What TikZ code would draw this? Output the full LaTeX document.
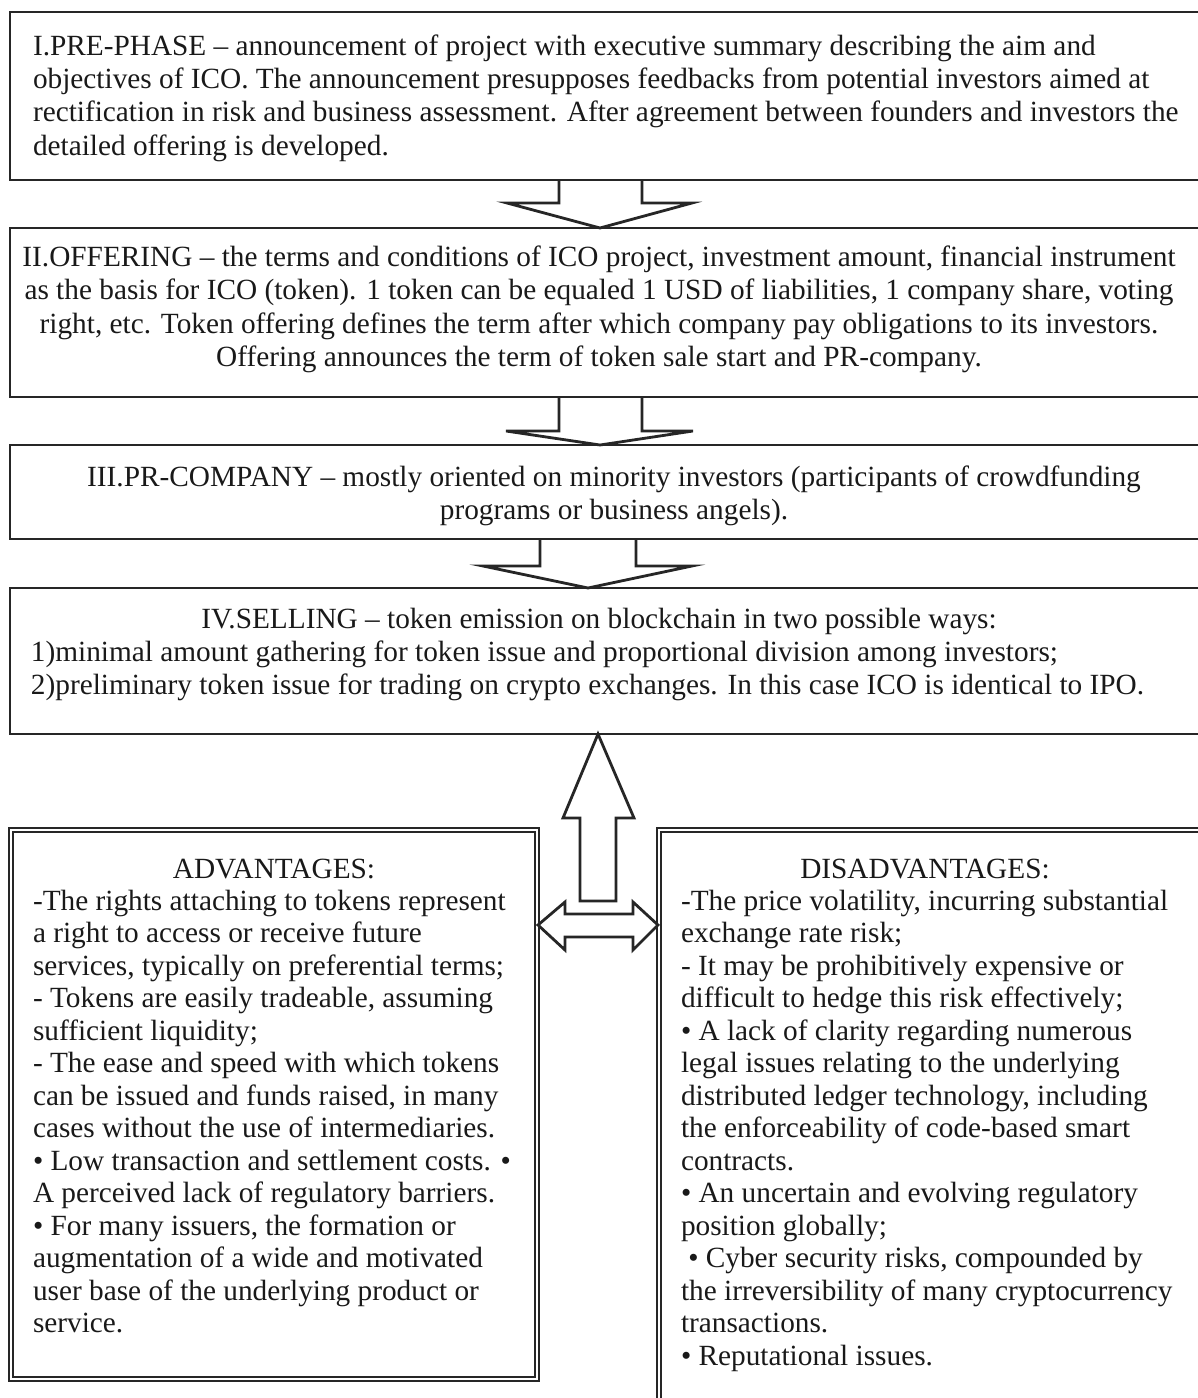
\documentclass[tikz,border=0pt]{standalone}
\usepackage{fontspec}
\setmainfont{Liberation Serif}
\usetikzlibrary{calc}
\begin{document}
\begin{tikzpicture}[x=0.5pt,y=-0.5pt,
  every node/.style={inner sep=0pt,outer sep=0pt},
  topbox/.style={draw=black!85,line width=1.4pt,rectangle,anchor=north west,minimum width=601pt},
  dblbox/.style={draw=black!85,double,double distance=1.3pt,line width=0.7pt,rectangle,anchor=north west},
  txt/.style={font=\fontsize{14.65}{16.6}\selectfont,text=black!90},
  btxt/.style={font=\fontsize{14.65}{16.25}\selectfont,text=black!90},
  blk/.style={draw=black!85,line width=1.4pt,line join=miter,fill=white}]
\useasboundingbox (0,0) rectangle (1198,1398);
\clip (0,0) rectangle (1198,1398);

% boxes
\node[topbox,minimum height=84pt] (b1) at (10,12) {};
\node[topbox,minimum height=84.5pt] (b2) at (10,228) {};
\node[topbox,minimum height=47pt] (b3) at (10,445) {};
\node[topbox,minimum height=73pt] (b4) at (10,588) {};
\node[dblbox,minimum width=263pt,minimum height=274.5pt] (adv) at (11,830) {};
\node[dblbox,minimum width=280pt,minimum height=300pt] (dis) at (659,830) {};

% texts
\node[txt,anchor=north west,align=left] (t1) at (33,34.9) {I.PRE-PHASE – announcement of project with executive summary describing the aim and\\objectives of ICO. The announcement presupposes feedbacks from potential investors aimed at\\rectification in risk and business assessment. After agreement between founders and investors the\\detailed offering is developed.};

\node[txt,anchor=north,align=center] (t2) at (599,246) {II.OFFERING – the terms and conditions of ICO project, investment amount, financial instrument\\as the basis for ICO (token). 1 token can be equaled 1 USD of liabilities, 1 company share, voting\\right, etc. Token offering defines the term after which company pay obligations to its investors.\\Offering announces the term of token sale start and PR-company.};

\node[txt,anchor=north,align=center] (t3) at (614,465.5) {III.PR-COMPANY – mostly oriented on minority investors (participants of crowdfunding\\programs or business angels).};

\node[txt,anchor=base] (t4h) at (599,628) {IV.SELLING – token emission on blockchain in two possible ways:};
\node[txt,anchor=north west,align=left] (t4) at (31,640.5) {1)minimal amount gathering for token issue and proportional division among investors;\\2)preliminary token issue for trading on crypto exchanges. In this case ICO is identical to IPO.};

\node[btxt,anchor=base] (advh) at (274,878) {ADVANTAGES:};
\node[btxt,anchor=north west,align=left] (advt) at (33,889.8) {-The rights attaching to tokens represent\\a right to access or receive future\\services, typically on preferential terms;\\- Tokens are easily tradeable, assuming\\sufficient liquidity;\\- The ease and speed with which tokens\\can be issued and funds raised, in many\\cases without the use of intermediaries.\\• Low transaction and settlement costs. •\\A perceived lack of regulatory barriers.\\• For many issuers, the formation or\\augmentation of a wide and motivated\\user base of the underlying product or\\service.};

\node[btxt,anchor=base] (dish) at (925,878) {DISADVANTAGES:};
\node[btxt,anchor=north west,align=left] (dist) at (681,889.8) {-The price volatility, incurring substantial\\exchange rate risk;\\- It may be prohibitively expensive or\\difficult to hedge this risk effectively;\\• A lack of clarity regarding numerous\\legal issues relating to the underlying\\distributed ledger technology, including\\the enforceability of code-based smart\\contracts.\\• An uncertain and evolving regulatory\\position globally;\\\hspace*{0.25em}• Cyber security risks, compounded by\\the irreversibility of many cryptocurrency\\transactions.\\• Reputational issues.};

% block arrows between stages
\draw[blk] (559,180) -- (559,203) -- (507,203) -- (600,228) -- (692,203) -- (642,203) -- (642,180);
\draw[blk] (559,397) -- (559,431) -- (506,431) -- (600,445) -- (693,431) -- (642,431) -- (642,397);
\draw[blk] (540,539) -- (540,566) -- (483,566) -- (588,588) -- (692,566) -- (636,566) -- (636,539);

% up arrow to selling
\draw[blk] (598,734) -- (634,818) -- (616,818) -- (616,901) -- (580,901) -- (580,818) -- (563,818) -- cycle;

% double arrow between advantages and disadvantages
\draw[blk] (538,925) -- (565,902) -- (565,914) -- (633,914) -- (633,902) -- (658,925) -- (633,950) -- (633,937) -- (565,937) -- (565,950) -- cycle;

% redraw box borders on top
\draw[draw=black!85,line width=1.4pt] (b1.south west) -- (b1.south east) (b2.north west) -- (b2.north east) (b2.south west) -- (b2.south east) (b3.north west) -- (b3.north east) (b3.south west) -- (b3.south east) (b4.north west) -- (b4.north east) (b4.south west) -- (b4.south east);
\end{tikzpicture}
\end{document}
